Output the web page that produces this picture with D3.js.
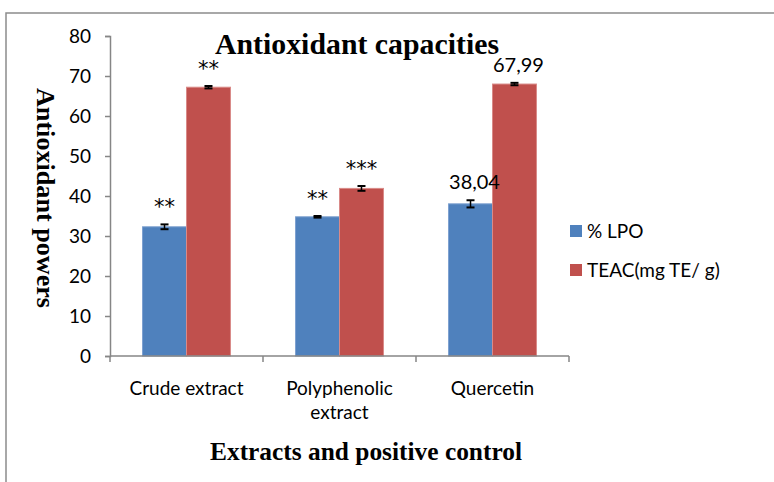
<!DOCTYPE html>
<html><head><meta charset="utf-8">
<script src="https://cdn.jsdelivr.net/npm/d3@7"></script>
<style>body{margin:0;background:#fff}svg{display:block}</style>
</head><body>
<script>
const categories = ["Crude extract", "Polyphenolic extract", "Quercetin"];
const categoryLines = [["Crude extract"], ["Polyphenolic", "extract"], ["Quercetin"]];
const seriesNames = ["% LPO", "TEAC(mg TE/ g)"];
const lpo = [32.3, 34.8, 38.04];
const teac = [67.2, 41.9, 67.99];
const lpoErr = [0.6, 0.2, 0.9];
const teacErr = [0.3, 0.6, 0.3];
const lpoLabels = ["**", "**", "38,04"];
const teacLabels = ["**", "***", "67,99"];
const yTicks = [0, 10, 20, 30, 40, 50, 60, 70, 80];

const W = 774, H = 482;
const colors = ["#4F81BD", "#C0504D"];
const strokes = ["#7DA0CF", "#D98A88"];
const svg = d3.select("body").append("svg").attr("width", W).attr("height", H);

// outer frame
svg.append("rect").attr("x", 6).attr("y", 13).attr("width", W + 10).attr("height", H + 10)
  .attr("fill", "none").attr("stroke", "#8c8c8c").attr("stroke-width", 1.5);

const x0 = 110, x1 = 569, yTop = 36, yBot = 356;
const x = d3.scaleBand().domain(categories).range([x0, x1]).paddingInner(0).paddingOuter(0);
const y = d3.scaleLinear().domain([0, 80]).range([yBot, yTop]);
const inner = d3.scaleBand().domain([0, 1]).range([0, x.bandwidth()]).paddingInner(0).paddingOuter(0.74);

const textFont = "Lato, 'Open Sans', sans-serif";
const serif = "'Liberation Serif', 'Times New Roman', serif";

// y axis
const yAxis = svg.append("g").attr("transform", `translate(${x0},0)`)
  .call(d3.axisLeft(y).tickValues(yTicks).tickSize(5).tickPadding(14).tickFormat(d3.format("d")));
yAxis.select(".domain").attr("stroke", "#868686").attr("stroke-width", 1.5);
yAxis.selectAll(".tick line").attr("stroke", "#868686").attr("stroke-width", 1.5);
yAxis.selectAll(".tick text").attr("font-family", textFont).attr("font-size", 19).attr("fill", "#000");

// bars
const data = categories.map((c, i) => ({c, vals: [lpo[i], teac[i]], errs: [lpoErr[i], teacErr[i]], labs: [lpoLabels[i], teacLabels[i]]}));
const g = svg.append("g");
const gl = svg.append("g");
data.forEach(d => {
  d.vals.forEach((v, j) => {
    const bx = x(d.c) + inner(j);
    const bw = inner.bandwidth();
    g.append("rect").attr("x", bx).attr("y", y(v)).attr("width", bw).attr("height", y(0) - y(v))
      .attr("fill", colors[j]).attr("stroke", strokes[j]).attr("stroke-width", 1);
    const cx = bx + bw / 2;
    const e = d.errs[j];
    gl.append("line").attr("x1", cx).attr("x2", cx).attr("y1", y(v + e)).attr("y2", y(v - e)).attr("stroke", "#000").attr("stroke-width", 1.5);
    [v + e, v - e].forEach(t => gl.append("line").attr("x1", cx - 4).attr("x2", cx + 4).attr("y1", y(t)).attr("y2", y(t)).attr("stroke", "#000").attr("stroke-width", 2));
    const lab = d.labs[j];
    const isStar = lab.indexOf("*") >= 0;
    gl.append("text").attr("x", cx + (isStar ? 0 : 4)).attr("y", y(v + e) - (isStar ? 10 : 11))
      .attr("text-anchor", "middle").attr("font-family", isStar ? "'DejaVu Sans', sans-serif" : textFont)
      .attr("font-size", isStar ? 21 : 20).attr("fill", "#000").text(lab);
  });
});

// x axis
const xAxis = svg.append("g").attr("transform", `translate(0,${yBot})`);
xAxis.append("line").attr("x1", x0).attr("x2", x1).attr("y1", 0).attr("y2", 0).attr("stroke", "#868686").attr("stroke-width", 1.5);
[x0].concat(categories.map(c => x(c) + x.bandwidth())).forEach(t =>
  xAxis.append("line").attr("x1", t).attr("x2", t).attr("y1", 0).attr("y2", 6).attr("stroke", "#868686").attr("stroke-width", 1.5));
categoryLines.forEach((lines, i) => {
  const t = xAxis.append("text").attr("text-anchor", "middle").attr("font-family", textFont).attr("font-size", 19).attr("fill", "#000");
  lines.forEach((l, k) => t.append("tspan").attr("x", x(categories[i]) + x.bandwidth() / 2).attr("y", 39 + k * 24).text(l));
});

// titles
svg.append("text").attr("x", 357).attr("y", 54).attr("text-anchor", "middle")
  .attr("font-family", serif).attr("font-weight", "bold").attr("font-size", 29)
  .attr("textLength", 284).attr("lengthAdjust", "spacingAndGlyphs").text("Antioxidant capacities");
svg.append("text").attr("x", 366).attr("y", 460).attr("text-anchor", "middle")
  .attr("font-family", serif).attr("font-weight", "bold").attr("font-size", 25)
  .attr("textLength", 312).attr("lengthAdjust", "spacingAndGlyphs").text("Extracts and positive control");
svg.append("text").attr("transform", "translate(37,198) rotate(90)").attr("text-anchor", "middle")
  .attr("font-family", serif).attr("font-weight", "bold").attr("font-size", 25)
  .attr("textLength", 220).attr("lengthAdjust", "spacingAndGlyphs").text("Antioxidant powers");

// legend
const leg = svg.append("g");
seriesNames.forEach((n, i) => {
  const ly = 231 + i * 39;
  leg.append("rect").attr("x", 570).attr("y", ly - 6).attr("width", 12).attr("height", 12).attr("fill", colors[i]);
  leg.append("text").attr("x", 587).attr("y", ly).attr("dy", "0.35em").attr("font-family", textFont).attr("font-size", 19).attr("fill", "#000").text(n);
});
</script>
</body></html>
